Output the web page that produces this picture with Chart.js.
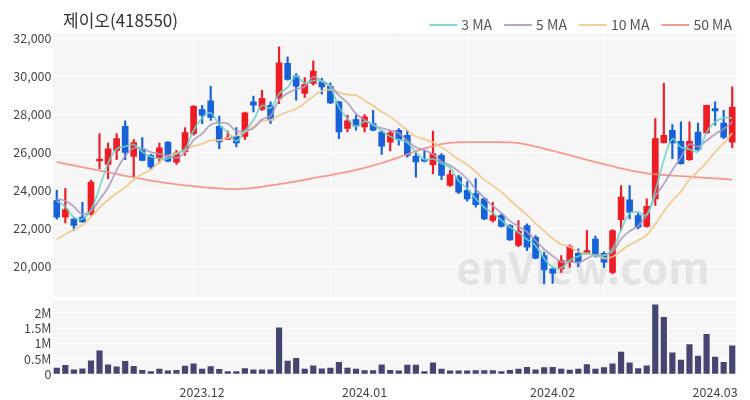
<!DOCTYPE html>
<html>
<head>
<meta charset="utf-8">
<script src="https://cdn.jsdelivr.net/npm/chart.js@4.4.1/dist/chart.umd.min.js"></script>
<style>
  html, body { margin: 0; padding: 0; background: #fff; }
  #wrap { position: relative; width: 750px; height: 400px; }
  #price { position: absolute; left: 0; top: 0; }
  #vol { position: absolute; left: 0; top: 298px; }
</style>
</head>
<body>
<div id="wrap">
  <canvas id="price" width="750" height="298"></canvas>
  <canvas id="vol" width="750" height="102"></canvas>
</div>
<script>
"use strict";

var title = '제이오(418550)';

var dates = [
  '2023.11.08', '2023.11.09', '2023.11.10', '2023.11.13', '2023.11.14', '2023.11.15', '2023.11.16', '2023.11.17',
  '2023.11.20', '2023.11.21', '2023.11.22', '2023.11.23', '2023.11.24', '2023.11.27', '2023.11.28', '2023.11.29',
  '2023.11.30', '2023.12.01', '2023.12.04', '2023.12.05', '2023.12.06', '2023.12.07', '2023.12.08', '2023.12.11',
  '2023.12.12', '2023.12.13', '2023.12.14', '2023.12.15', '2023.12.18', '2023.12.19', '2023.12.20', '2023.12.21',
  '2023.12.22', '2023.12.26', '2023.12.27', '2023.12.28', '2024.01.02', '2024.01.03', '2024.01.04', '2024.01.05',
  '2024.01.08', '2024.01.09', '2024.01.10', '2024.01.11', '2024.01.12', '2024.01.15', '2024.01.16', '2024.01.17',
  '2024.01.18', '2024.01.19', '2024.01.22', '2024.01.23', '2024.01.24', '2024.01.25', '2024.01.26', '2024.01.29',
  '2024.01.30', '2024.01.31', '2024.02.01', '2024.02.02', '2024.02.05', '2024.02.06', '2024.02.07', '2024.02.08',
  '2024.02.13', '2024.02.14', '2024.02.15', '2024.02.16', '2024.02.19', '2024.02.20', '2024.02.21', '2024.02.22',
  '2024.02.23', '2024.02.26', '2024.02.27', '2024.02.28', '2024.02.29', '2024.03.04', '2024.03.05', '2024.03.06'
];

var openP = [
  23470, 22600, 22500, 22600, 22770, 25550, 25370, 26100, 27370, 25790,
  26190, 25840, 25720, 26540, 25490, 26020, 26980, 28250, 28700, 27370,
  26680, 26840, 26840, 28650, 28250, 28470, 28830, 30670, 30000, 29090,
  29620, 29700, 29470, 28650, 27250, 27720, 27330, 27510, 27070, 26540,
  27160, 26890, 25790, 25630, 25350, 25840, 24260, 24700, 24000, 23830,
  23560, 22420, 22680, 22160, 21110, 22160, 21540, 20580, 19880, 19880,
  20230, 20700, 20670, 21450, 20700, 19700, 22460, 23510, 22680, 22110,
  23560, 26510, 27160, 26580, 25620, 27070, 27020, 28300, 27540, 26540
];
var highP = [
  24000, 24100, 22560, 23380, 24530, 26980, 26490, 26980, 27650, 26670,
  26770, 25900, 26490, 26560, 26100, 27300, 28450, 28470, 29470, 27900,
  27120, 27300, 28120, 28950, 29260, 28650, 31540, 31020, 30140, 29930,
  30790, 29880, 29650, 28680, 27950, 27950, 27980, 28210, 27160, 27160,
  27250, 27160, 26020, 26100, 27120, 25930, 25050, 24790, 24470, 24620,
  23620, 23380, 22770, 22210, 22420, 22250, 21630, 20750, 19900, 20580,
  21140, 20930, 21890, 21600, 20780, 21950, 24260, 24260, 22800, 23560,
  27770, 29620, 27460, 27600, 27600, 27540, 28480, 28650, 28210, 29440
];
var lowP = [
  22490, 22300, 21900, 22330, 22700, 25140, 24620, 25610, 25610, 24700,
  25550, 25140, 25440, 25500, 25370, 25840, 26900, 27510, 27680, 26190,
  26660, 26280, 26670, 28120, 28200, 27510, 28560, 29790, 28740, 28880,
  29530, 29050, 28560, 26720, 27070, 27160, 27070, 27120, 25890, 26070,
  26370, 25750, 24700, 25500, 24880, 24560, 24210, 23830, 23440, 23120,
  22460, 22330, 22070, 21370, 21050, 20840, 20400, 19090, 19120, 19700,
  19960, 20000, 20650, 20500, 19960, 19620, 21900, 22510, 21980, 22070,
  23210, 26480, 25670, 25380, 25580, 26070, 26980, 27420, 26720, 26250
];
var closeP = [
  22600, 23000, 22160, 22340, 24440, 25650, 26190, 26720, 26000, 26510,
  25580, 25230, 26230, 25530, 25980, 27040, 28420, 27950, 27830, 26550,
  26760, 26500, 28070, 28470, 28830, 27700, 30700, 29830, 29480, 29560,
  30260, 29440, 28600, 27070, 27650, 27370, 27860, 27160, 26320, 27020,
  26670, 25840, 25500, 25530, 25930, 24790, 24830, 23910, 23560, 23250,
  22510, 22680, 22110, 21400, 21860, 21020, 20440, 19830, 19650, 20320,
  21050, 20230, 20840, 20670, 20230, 21890, 23650, 22860, 22070, 23160,
  26720, 26890, 26490, 25410, 26580, 26140, 28470, 28170, 26800, 28380
];
var volume = [
  215000, 300000, 160000, 190000, 450000, 770000, 320000, 250000, 430000, 270000,
  140000, 100000, 180000, 120000, 140000, 280000, 350000, 180000, 260000, 170000,
  100000, 100000, 200000, 160000, 160000, 160000, 1520000, 440000, 530000, 180000,
  290000, 190000, 215000, 400000, 215000, 180000, 130000, 130000, 320000, 140000,
  120000, 310000, 310000, 100000, 380000, 180000, 120000, 120000, 120000, 130000,
  130000, 130000, 100000, 140000, 180000, 240000, 160000, 230000, 240000, 180000,
  150000, 180000, 330000, 180000, 230000, 350000, 730000, 380000, 200000, 290000,
  2270000, 1860000, 710000, 470000, 980000, 600000, 1310000, 570000, 400000, 940000
];

// first values of the short averages (no earlier closes available)
var ma3Head = [23450, 23150];
var ma5Head = [23560, 23450, 23150, 22750];
var ma10Head = [21430, 21700, 21950, 22180, 22600, 23100, 23500, 23850, 24150];

// 50 day average
var ma50 = [
  25490, 25400, 25310, 25220, 25130, 25040, 24950, 24860, 24770, 24680,
  24600, 24520, 24450, 24380, 24320, 24270, 24220, 24180, 24140, 24110,
  24080, 24070, 24090, 24130, 24190, 24260, 24330, 24400, 24480, 24560,
  24640, 24720, 24800, 24890, 24980, 25080, 25190, 25310, 25440, 25580,
  25740, 25900, 26060, 26200, 26330, 26430, 26500, 26530, 26540, 26540,
  26540, 26540, 26530, 26520, 26480, 26400, 26300, 26190, 26080, 25970,
  25850, 25730, 25610, 25490, 25380, 25270, 25160, 25060, 24970, 24900,
  24850, 24810, 24780, 24750, 24720, 24690, 24660, 24630, 24600, 24570
];

var priceTicks = [20000, 22000, 24000, 26000, 28000, 30000, 32000];
var volTicks = [0, 500000, 1000000, 1500000, 2000000];

var movingAvg = function(head, n) {
    return closeP.map(function(c, i) {
        if (i < n - 1) return head[i];
        var s = 0;
        for (var k = i - n + 1; k <= i; k++) s += closeP[k];
        return s / n;
    });
};

var ma3 = movingAvg(ma3Head, 3);
var ma5 = movingAvg(ma5Head, 5);
var ma10 = movingAvg(ma10Head, 10);

var upColor = '#ee1c25';
var downColor = '#1762d9';
var candleColors = closeP.map(function(c, i) { return c >= openP[i] ? upColor : downColor; });

var FONT = '"Noto Sans CJK KR", "Noto Sans", sans-serif';
Chart.defaults.font.family = FONT;
Chart.defaults.font.size = 12.5;
Chart.defaults.color = '#444';

var maLines = [
    { label: '3 MA', data: ma3, color: 'rgba(110, 208, 196, 0.85)' },
    { label: '5 MA', data: ma5, color: 'rgba(170, 152, 190, 0.85)' },
    { label: '10 MA', data: ma10, color: 'rgba(240, 200, 140, 0.9)' },
    { label: '50 MA', data: ma50, color: 'rgba(244, 138, 122, 0.85)' }
];

var paneBg = {
    id: 'paneBg',
    beforeDraw: function(chart) {
        var a = chart.chartArea, ctx = chart.ctx;
        ctx.save();
        ctx.fillStyle = '#f6f6f6';
        ctx.fillRect(a.left, a.top, a.right - a.left, a.bottom - a.top);
        ctx.restore();
    }
};

var headerAndMark = {
    id: 'headerAndMark',
    beforeDatasetsDraw: function(chart) {
        var ctx = chart.ctx;
        ctx.save();
        ctx.font = 'bold 43px ' + FONT;
        ctx.fillStyle = 'rgba(200, 200, 200, 0.4)';
        ctx.textAlign = 'center';
        ctx.textBaseline = 'middle';
        ctx.fillText('enView.com', 583, 268);
        ctx.restore();
    },
    afterDraw: function(chart) {
        var ctx = chart.ctx;
        ctx.save();
        ctx.font = '17px ' + FONT;
        ctx.fillStyle = '#333';
        ctx.textBaseline = 'middle';
        ctx.textAlign = 'left';
        ctx.fillText(title, 63, 21);

        // legend, laid out from the right edge
        ctx.font = '14px ' + FONT;
        var xEnd = 732;
        for (var i = maLines.length - 1; i >= 0; i--) {
            var tw = ctx.measureText(maLines[i].label).width;
            var tx = xEnd - tw;
            ctx.fillStyle = '#555';
            ctx.fillText(maLines[i].label, tx, 25);
            ctx.strokeStyle = maLines[i].color;
            ctx.lineWidth = 2;
            ctx.beginPath();
            ctx.moveTo(tx - 32, 25);
            ctx.lineTo(tx - 4, 25);
            ctx.stroke();
            xEnd = tx - 44;
        }
        ctx.restore();
    }
};

var noEndPadding = function(s) {
    s.width = 52.5;
    s.paddingTop = 0;
    s.paddingBottom = 0;
};

var lineSets = maLines.map(function(m) {
    return {
        type: 'line', label: m.label, data: m.data,
        borderColor: m.color, borderWidth: 1.8,
        pointRadius: 0, tension: 0.4, order: 0
    };
});

new Chart(document.getElementById('price'), {
    type: 'bar',
    data: {
        labels: dates,
        datasets: lineSets.concat([
            {
                label: 'body', data: openP.map(function(o, i) { return [o, closeP[i]]; }),
                backgroundColor: candleColors, barThickness: 6, grouped: false, minBarLength: 1, order: 1
            },
            {
                label: 'wick', data: lowP.map(function(l, i) { return [l, highP[i]]; }),
                backgroundColor: candleColors, barThickness: 1.5, grouped: false, order: 2
            }
        ])
    },
    options: {
        responsive: false,
        animation: false,
        layout: { padding: { top: 33.3, bottom: 1.3, left: 0, right: 13.5 } },
        plugins: { legend: { display: false }, tooltip: { enabled: false } },
        scales: {
            x: {
                offset: true,
                grid: { color: '#ffffff', lineWidth: 1, drawTicks: false, offset: false },
                border: { display: false },
                ticks: { display: false, autoSkip: false },
                afterBuildTicks: function(s) {
                    s.ticks = s.ticks.filter(function(t) { return t.value > 0 && t.value % 16 === 0; });
                },
                afterFit: function(s) { s.height = 0; s.paddingLeft = 0; s.paddingRight = 0; }
            },
            y: {
                min: 18420, max: 32250,
                grid: { color: '#ffffff', lineWidth: 1, drawTicks: false },
                border: { display: false },
                ticks: {
                    padding: 1,
                    callback: function(v) { return v.toLocaleString('en-US'); }
                },
                afterBuildTicks: function(s) { s.ticks = priceTicks.map(function(v) { return { value: v }; }); },
                afterFit: noEndPadding
            }
        }
    },
    plugins: [paneBg, headerAndMark]
});

new Chart(document.getElementById('vol'), {
    type: 'bar',
    data: {
        labels: dates,
        datasets: [{
            label: 'volume', data: volume,
            backgroundColor: '#444570', barPercentage: 0.72, categoryPercentage: 1
        }]
    },
    options: {
        responsive: false,
        animation: false,
        layout: { padding: { top: 2.5, bottom: 0, left: 0, right: 13.5 } },
        plugins: { legend: { display: false }, tooltip: { enabled: false } },
        scales: {
            x: {
                offset: true,
                grid: { display: false },
                border: { display: false },
                ticks: {
                    autoSkip: false, maxRotation: 0, padding: 2,
                    callback: function(v) { return dates[v].slice(0, 7); }
                },
                afterBuildTicks: function(s) {
                    s.ticks = s.ticks.filter(function(t) {
                        return t.value > 0 && dates[t.value].slice(5, 7) !== dates[t.value - 1].slice(5, 7);
                    });
                },
                afterFit: function(s) { s.height = 25.7; s.paddingLeft = 0; s.paddingRight = 0; }
            },
            y: {
                min: 0, max: 2400000,
                grid: { color: '#ffffff', lineWidth: 1, drawTicks: false },
                border: { display: false },
                ticks: {
                    padding: 1,
                    callback: function(v) { return v === 0 ? '0' : (v / 1000000) + 'M'; }
                },
                afterBuildTicks: function(s) { s.ticks = volTicks.map(function(v) { return { value: v }; }); },
                afterFit: noEndPadding
            }
        }
    },
    plugins: [paneBg]
});
</script>
</body>
</html>
